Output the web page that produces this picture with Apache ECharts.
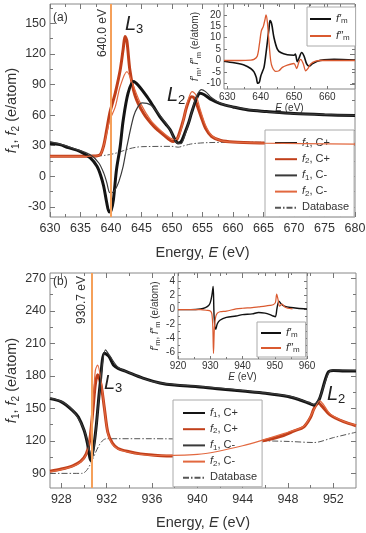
<!DOCTYPE html>
<html><head><meta charset="utf-8">
<script src="https://cdn.jsdelivr.net/npm/echarts@6/dist/echarts.min.js"></script>
<style>html,body{margin:0;padding:0;background:#fff}#c{width:366px;height:533px}</style>
</head><body><div id="c"></div>
<script>
// ================= Panel (a) main =================
const aF1pE = [630,631.6,633,634.9,636.6,637.7,638.3,638.8,639.3,639.7,640.0,640.4,640.9,641.5,642,642.8,643.7,644.5,645.9,647,648,649,649.7,650.5,651,651.5,652.1,652.7,653.2,654,654.6,655.3,656.5,658,660,662.5,665.5,670,675,680];
const aF1pV = [32,31,28,24.4,18,9.8,1,-9.8,-26,-35,-34,-22.8,6.5,29,55,81.5,93,89,78,68,58.6,51,45.6,35.8,32.6,34,42.4,52,62,76,81.5,80,75,71,68,65,63.5,61.5,60.3,59.5];
const aF1mE = [630,632,634,636.6,638,638.8,639.3,639.8,640.2,640.7,641.3,642,642.6,643.7,644.4,645.1,646.5,648,649.7,650.8,651.5,652.1,653.2,654,654.8,655.5,656.5,658,660,665,670,680];
const aF1mV = [34,31,27,21,13,3.3,-6,-16,-16,-13,-5,10,29,58.6,68,72,70,60,45.6,32.6,32,40,62,78,85,83,77,71.5,68,63.5,61.5,59.8];
const aF2pE = [630,634,637,638.2,638.8,639.3,639.8,640.3,640.7,641.5,642,642.3,642.6,643.1,643.9,645.3,647,648.6,650.2,650.8,651.3,651.9,652.4,653.2,653.6,654.1,654.8,655.5,656.5,658,660,665,670,680];
const aF2pV = [19.5,19.5,19.8,21,30,45.6,62,73,81.5,104,125,137,133,104,80,62,49,40.7,34,36,44,56,68,78,77,70,58,47,39,35,33.5,32.5,32,31.5];
const aF2mE = [630,637,638.2,638.8,639.3,639.8,640.7,641.5,642.6,643.7,644.8,646.5,648,649.7,650.5,651.3,652,652.6,653.3,653.9,654.6,655.5,656.5,658,660,665,680];
const aF2mV = [19.5,19.8,21,30,42,55,68,88,102.6,88,72,55,45.6,37.5,36,42,58.6,74,83,80,66,50,40,35,33.5,32.5,31.5];
const aDbE = [630,638,639,640,641,642,643,644,645,650,651,652,653,654,656,660,680];
const aDbV = [20,20,20.5,21.5,23,25,27,28.3,29,29.3,28.5,30,31.5,32.3,33,33.3,33.5];
const aEdge = [640.0];
const aXTicks = [630,635,640,645,650,655,660,665,670,675,680];
const aYTicks = [-30,0,30,60,90,120,150];
// ================= Panel (a) inset =================
const aiFmE = [629,632,635,637,638,638.7,639.1,639.6,640,640.5,641,641.5,642,642.5,642.8,643.3,644,645,646,648,650,650.4,651,651.5,652.3,653,653.8,654.5,655.5,657,659,662,668.3];
const aiFmV = [-0.3,-1,-2,-3.5,-5,-7.5,-10,-9.5,-7,-5,-3,2,8,14,17.5,16,10,5,3.5,2.5,2.3,2.8,-0.5,1,3.5,2,-1.5,-2.5,-1.5,-0.3,0.3,0.5,0.2];
const aiFmmE = [629,634,637,638,639,639.7,640.2,640.8,641.3,641.6,642,642.5,643,643.5,644.5,645.5,646.5,648,650,650.8,651.5,652,652.8,653.5,654.2,655,656.5,658,668.3];
const aiFmmV = [0,0,0.2,0.5,2,8,13,15,18,20,17,8,0,-3,-4.8,-4.5,-3,-2,-1.3,-3.5,-0.5,0.5,-1.5,-4.5,-3.5,-1.5,-0.3,0,0];
const aiXTicks = [630,640,650,660];
const aiYTicks = [-10,-5,0,5,10,15,20];
// ================= Panel (b) main =================
const bF1pE = [927,928,929,929.5,930,930.3,930.6,930.9,931.1,931.4,931.8,932.2,932.6,933,933.75,935.2,936.7,938,940,942,944,946,948,949,949.8,950.3,950.7,951,951.3,951.6,952,953,954];
const bF1pV = [159,156,148,142,130,118,102,118,136,170,201,198,190,187,184,178,173.5,171.5,170,168,166,164,161,158,155,153,157,166,177,184,185,184.5,184.5];
const bF1mE = [927,928,929,930,930.4,930.7,931,931.4,931.9,932.3,933,934,936,938,940,944,948,949.8,950.3,950.8,951.2,951.6,952,954];
const bF1mV = [159.5,156.5,148.5,130.5,115,104,125,168,204,198,188,183,175,172,170.5,166.5,161.5,155.5,153.5,160,172,183,185.5,185];
const bF2pE = [927,928,929,929.7,930.2,930.5,930.8,931,931.2,931.5,931.8,932.1,932.5,933,934,935,936,938,940,942,944,945,946,947.6,948.5,949.4,950,950.3,950.7,951,951.7,952.9,954];
const bF2pV = [92,94,97,101,108,120,150,172,181,172,150,128,118,113,110,108,107,106,108,112,116,118.5,120.5,125,129,133,142,150,155,152,144,137.7,134];
const bF2mE = [927,928,929,929.7,930.2,930.5,930.8,931,931.2,931.5,931.8,932.1,932.5,933,934,936,940,944,948,949.4,950,950.4,950.8,951.1,951.7,952.9,954];
const bF2mV = [91.5,93.5,96.5,100.5,107.5,121,155,185,190,176,150,127,117,112.5,109.5,106.5,107.5,115.5,128,133.5,143,151,157,154,145,138,134.5];
const bDbE = [927,929.8,932,936,940,944,948,950.3,952,954];
const bDbV = [90,90,122,122,121.5,120.5,119.5,118.5,123,128];
const bEdge = [930.7];
const bXTicks = [928,932,936,940,944,948,952];
const bYTicks = [90,120,150,180,210,240,270];
// ================= Panel (b) inset =================
const biFmE = [920,924,927,928.5,929.5,930,930.5,930.9,931.2,931.7,932.2,933,935,938,940,943,945,947,948.5,949.5,950.2,950.7,951.3,952,953,955,957,960];
const biFmV = [0,0,0.1,0.3,0.6,1,2,3.3,-1,-2.8,-2,-1.5,-1.1,-0.9,-0.7,-0.6,-0.4,-0.5,-0.7,-0.9,-1,0.2,1.2,0.8,0.5,0.3,0.2,0.1];
const biFmmE = [920,924,927,929,930,930.5,930.8,931,931.3,931.7,932.2,933,935,938,940,943,945,947,948.5,949.5,950.2,950.6,951,951.5,952.3,953,954,955.5];
const biFmmV = [0,0,0,-0.1,-0.2,-0.6,-2.5,-6.2,-2.5,-1,-0.5,-0.3,-0.2,0.1,0.2,0.3,0.4,0.5,0.6,0.7,1,2.2,1.5,0.5,0.8,0.4,0.2,0.1];
const biXTicks = [920,930,940,950,960];
const biYTicks = [-6,-4,-2,0,2,4];

const FONT = 'Liberation Sans';
const mids = t => t.slice(0,-1).map((v,i)=>(v+t[i+1])/2);

function axes(gi, dim, min, max, majors, minors, opts) {
  const pos = dim === 'x' ? ['bottom','top'] : ['left','right'];
  const base = {gridIndex:gi, type:'value', min, max, splitLine:{show:false}, axisLine:{show:false, onZero:false}};
  const mk = (p, vals, len, withLabel) => Object.assign({}, base, {
    position:p,
    axisTick:{show:true, inside:true, length:len, customValues:vals, lineStyle:{color:'#777', width:1}},
    axisLabel: withLabel ? {show:true, customValues:majors, fontFamily:FONT, fontSize:opts.fs, color:'#333', margin:opts.margin} : {show:false}
  }, withLabel && opts.name ? {name:opts.name, nameLocation:'middle', nameGap:opts.nameGap, nameRotate: dim==='y'?90:0,
       nameMoveOverlap: !opts.noMove,
       nameTextStyle:{fontFamily:FONT, color:'#333', rich:opts.rich}} : {});
  return [mk(pos[0], majors, opts.major, true), mk(pos[0], minors, opts.minor, false),
          mk(pos[1], majors, opts.major, false), mk(pos[1], minors, opts.minor, false)];
}
function richSet(fs, sfs, lh) {
  return {
    n:{fontFamily:FONT, fontSize:fs, lineHeight:lh, verticalAlign:'top', color:'#333'},
    i:{fontFamily:FONT, fontSize:fs, lineHeight:lh, verticalAlign:'top', fontStyle:'italic', color:'#333'},
    s:{fontFamily:FONT, fontSize:sfs, lineHeight:Math.round(lh*0.45), verticalAlign:'bottom', color:'#333'}
  };
}
const mainRich = richSet(14.5, 10, 17);
const insetRich = richSet(10, 7.5, 12);

const xA = [].concat(
  axes(0,'x',630,680,aXTicks,mids(aXTicks),{fs:12.5,margin:5,major:5,minor:3,name:'{n|Energy, }{i|E}{n| (eV)}',nameGap:28,rich:mainRich}),
  axes(1,'x',629,668.3,aiXTicks,mids(aiXTicks),{fs:10,margin:3,major:3,minor:2,name:'{i|E}{n| (eV)}',nameGap:13,rich:insetRich}),
  axes(2,'x',927,954,bXTicks,mids(bXTicks),{fs:12.5,margin:5,major:5,minor:3,name:'{n|Energy, }{i|E}{n| (eV)}',nameGap:27,rich:mainRich}),
  axes(3,'x',920,960,biXTicks,mids(biXTicks),{fs:10,margin:2,major:3,minor:2,name:'{i|E}{n| (eV)}',nameGap:13,rich:insetRich})
);
const yA = [].concat(
  axes(0,'y',-40,169,aYTicks,mids(aYTicks).concat([165]),{fs:12.5,margin:4,major:5,minor:3,name:'{i|f}{s|1}{n|, }{i|f}{s|2}{n| (e/atom)}',nameGap:29,noMove:true,rich:mainRich}),
  axes(1,'y',-12.5,24.8,aiYTicks,[],{fs:10,margin:3,major:3,minor:2,name:'{i|f′}{s|m}{n|, }{i|f″}{s|m}{n| (e/atom)}',nameGap:14,rich:insetRich}),
  axes(2,'y',76.5,275,bYTicks,mids(bYTicks),{fs:12.5,margin:4,major:5,minor:3,name:'{i|f}{s|1}{n|, }{i|f}{s|2}{n| (e/atom)}',nameGap:29,noMove:true,rich:mainRich}),
  axes(3,'y',-7,5.2,biYTicks,mids(biYTicks),{fs:10,margin:3,major:3,minor:2,name:'{i|f′}{s|m}{n|, }{i|f″}{s|m}{n| (e/atom)}',nameGap:11,rich:insetRich})
);

const C = {blk:'#141414', org:'#c13f1a', blkT:'#3a3a3a', orgT:'#e2683f', db:'#555', edge:'#f5a05a', iblk:'#111', iorg:'#da5a30'};
function ln(name, xs, ys, g, color, width, type, z, extra) {
  return Object.assign({
    name, type:'line', xAxisIndex:g*4, yAxisIndex:g*4,
    data: xs.map((x,i)=>[x, ys[i]]), symbol:'none', showSymbol:false, smooth:0.3,
    lineStyle:{color, width, type: type||'solid'}, itemStyle:{color}, z: z||2, animation:false
  }, extra||{});
}
const edgeLine = v => ({silent:true, symbol:'none', label:{show:false}, animation:false,
  lineStyle:{color:C.edge, width:2, type:'solid'}, data: v.map(x=>({xAxis:x}))});
const DASHDOT = [6,2,1.5,2];

const series = [
  ln('aDb', aDbE, aDbV, 0, C.db, 1, DASHDOT, 2, {markLine: edgeLine(aEdge)}),
  ln('aF2p', aF2pE, aF2pV, 0, C.org, 3, null, 3),
  ln('aF1p', aF1pE, aF1pV, 0, C.blk, 3, null, 3),
  ln('aF2m', aF2mE, aF2mV, 0, C.orgT, 1.2, null, 4),
  ln('aF1m', aF1mE, aF1mV, 0, C.blkT, 1.2, null, 4),
  ln('aiFm', aiFmE, aiFmV, 1, C.iblk, 1.6, null, 6),
  ln('aiFmm', aiFmmE, aiFmmV, 1, C.iorg, 1.3, null, 6),
  ln('bDb', bDbE, bDbV, 2, C.db, 1, DASHDOT, 2, {markLine: edgeLine(bEdge)}),
  ln('bF2p', bF2pE, bF2pV, 2, C.org, 3, null, 3),
  ln('bF1p', bF1pE, bF1pV, 2, C.blk, 3, null, 3),
  ln('bF2m', bF2mE, bF2mV, 2, C.orgT, 1.2, null, 4),
  ln('bF1m', bF1mE, bF1mV, 2, C.blkT, 1.2, null, 4),
  ln('biFm', biFmE, biFmV, 3, C.iblk, 1.4, null, 6),
  ln('biFmm', biFmmE, biFmmV, 3, C.iorg, 1.2, null, 6)
];

const legText = {
  aF1p:'{i|f}{s|1}{n|, C+}', aF2p:'{i|f}{s|2}{n|, C+}', aF1m:'{i|f}{s|1}{n|, C-}', aF2m:'{i|f}{s|2}{n|, C-}', aDb:'{n|Database}',
  bF1p:'{i|f}{s|1}{n|, C+}', bF2p:'{i|f}{s|2}{n|, C+}', bF1m:'{i|f}{s|1}{n|, C-}', bF2m:'{i|f}{s|2}{n|, C-}', bDb:'{n|Database}',
  aiFm:'{i|f′}{s|m}', aiFmm:'{i|f″}{s|m}', biFm:'{i|f′}{s|m}', biFmm:'{i|f″}{s|m}'
};
const legRich = richSet(11, 8, 12);
function legend(names, left, top, pad, iw, gap) {
  return {data:names, left, top, orient:'vertical', padding:pad, itemWidth:iw, itemHeight:12, itemGap:gap,
    selectedMode:false, backgroundColor:'#fff', borderColor:'#aaa', borderWidth:1, borderRadius:0,
    itemStyle:{opacity:0}, formatter:n=>legText[n], textStyle:{fontFamily:FONT, fontSize:11, lineHeight:12, color:'#333', rich:legRich}};
}
const legends = [
  legend(['aF1p','aF2p','aF1m','aF2m','aDb'], 265, 130, [7,5,3,9], 22, 4.2),
  legend(['bF1p','bF2p','bF1m','bF2m','bDb'], 173, 400, [7,5,3,9], 22, 4.2),
  legend(['aiFm','aiFmm'], 307, 7, [6,6,4,2], 21, 5),
  legend(['biFm','biFmm'], 257, 322, [5,6,3,3], 20, 3)
];

const Lrich = {
  l:{fontFamily:FONT, fontSize:20, fontStyle:'italic', lineHeight:22, verticalAlign:'top', fill:'#222', color:'#222'},
  s:{fontFamily:FONT, fontSize:13, lineHeight:7, verticalAlign:'bottom', fill:'#222', color:'#222'}
};
const txt = (x, y, text, extra) => Object.assign({type:'text', x, y, z:100,
  style:Object.assign({text, fontFamily:FONT, fontSize:12, fill:'#333'}, extra||{})});
const graphic = [
  txt(53, 12, '(a)'),
  txt(53, 276, '(b)'),
  {type:'text', x:102.5, y:33, rotation:Math.PI/2, z:100, style:{text:'640.0 eV', fontFamily:FONT, fontSize:12, fill:'#333', align:'center', verticalAlign:'middle'}},
  {type:'text', x:82, y:300, rotation:Math.PI/2, z:100, style:{text:'930.7 eV', fontFamily:FONT, fontSize:12, fill:'#333', align:'center', verticalAlign:'middle'}},
  txt(125, 14, '{l|L}{s|3}', {rich:Lrich, verticalAlign:'top'}),
  txt(167, 85, '{l|L}{s|2}', {rich:Lrich, verticalAlign:'top'}),
  txt(104, 373, '{l|L}{s|3}', {rich:Lrich, verticalAlign:'top'}),
  txt(327, 384, '{l|L}{s|2}', {rich:Lrich, verticalAlign:'top'})
];

const gridBase = {show:true, borderColor:'#888', borderWidth:1, containLabel:false, outerBoundsMode:'none'};
const option = {
  animation:false,
  backgroundColor:'#fff',
  grid:[
    Object.assign({left:50, top:4, width:305, height:213, backgroundColor:'transparent'}, gridBase),
    Object.assign({left:224, top:4, width:131, height:85, backgroundColor:'#fff'}, gridBase),
    Object.assign({left:50, top:273, width:306, height:215, backgroundColor:'transparent'}, gridBase),
    Object.assign({left:178, top:273, width:129, height:86, backgroundColor:'#fff'}, gridBase)
  ],
  xAxis:xA, yAxis:yA, series, legend:legends, graphic
};
const chart = echarts.init(document.getElementById('c'), null, {renderer:'canvas'});
chart.setOption(option);
</script></body></html>
